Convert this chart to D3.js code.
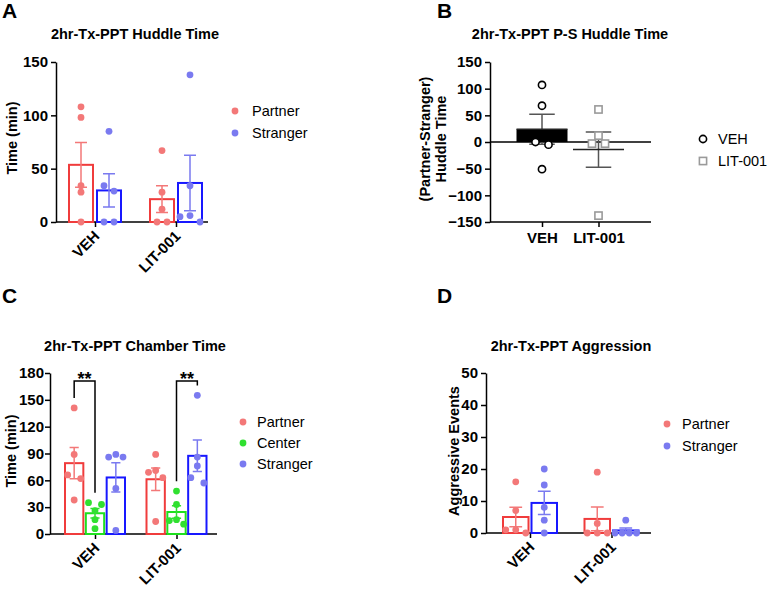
<!DOCTYPE html>
<html lang="en">
<head>
<meta charset="UTF-8" />
<title>2hr-Tx-PPT</title>
<style>
  body { margin: 0; background: #fff; }
  svg { display: block; font-family: "Liberation Sans", Arial, sans-serif; }
  .axis path, .axis line { stroke: #000; stroke-width: 1.5; }
  .axis text { font-size: 15px; font-weight: bold; fill: #000; font-family: "Liberation Sans", Arial, sans-serif; }
  .title { font-size: 14.5px; font-weight: bold; }
  .letter { font-size: 21px; font-weight: bold; }
  .ylab { font-size: 14.5px; font-weight: bold; }
  .legend text { font-size: 14.5px; }
</style>
</head>
<body>
<div id="chart"></div>
<script src="https://cdnjs.cloudflare.com/ajax/libs/d3/7.8.5/d3.min.js"></script>
<script>
// groups on the x axis
const groups = ["VEH", "LIT-001"];

// A - huddle time (one row per group)
const huddleSeries = ["Partner", "Stranger"];
const huddlePartner = [[108, 98, 34, 28, 0], [67, 28, 12, 0, 0]];
const huddleStranger = [[85, 34, 29, 0, 0], [138, 34, 6, 5, 0]];
const huddleTicks = [0, 50, 100, 150];

// B - partner minus stranger
const diffVEH = [107, 68, 0, -5, -51];
const diffLIT = [61, 12, -3, -3, -138];
const diffTicks = [-150, -100, -50, 0, 50, 100, 150];

// C - chamber time
const chamberSeries = ["Partner", "Center", "Stranger"];
const chamberPartner = [[141, 89, 66, 62, 38], [89, 71, 69, 63, 14]];
const chamberCenter = [[35, 33, 26, 16, 6], [48, 33, 16, 15, 11]];
const chamberStranger = [[89, 86, 86, 51, 4], [155, 86, 76, 63, 57]];
const chamberTicks = [0, 30, 60, 90, 120, 150, 180];
const chamberSig = [["VEH", "Partner", "Center", "**"], ["LIT-001", "Center", "Stranger", "**"]];

// D - aggression
const aggSeries = ["Partner", "Stranger"];
const aggPartner = [[16, 7, 1, 1, 0], [19, 3, 0, 0, 0]];
const aggStranger = [[20, 15, 8, 4, 0], [4, 0, 0, 0, 0]];
const aggTicks = [0, 10, 20, 30, 40, 50];

const dotColor = { Partner: "#f37878", Center: "#30e030", Stranger: "#7a7af0" };
const barColor = { Partner: "#f03c3c", Center: "#1ee01e", Stranger: "#1818ff" };

const svg = d3.select("#chart").append("svg").attr("width", 768).attr("height", 592);
svg.append("rect").attr("width", 768).attr("height", 592).attr("fill", "#fff");

// simple scatter layout: points closer than 6px vertically share a row
function swarm(vals, y, cx, spacing, bw) {
  const pts = vals.map(v => ({ v, py: y(v) })).sort((a, b) => a.py - b.py);
  const rows = [];
  pts.forEach(p => {
    const last = rows[rows.length - 1];
    if (last && p.py - last[last.length - 1].py < 6) last.push(p);
    else rows.push([p]);
  });
  const out = [];
  rows.forEach(r => {
    const n = r.length;
    const s = n > 1 ? Math.min(spacing, (bw - 4) / (n - 1)) : 0;
    const slots = d3.range(n).map(i => (i - (n - 1) / 2) * s)
      .sort((a, b) => Math.abs(a) - Math.abs(b) || a - b);
    r.forEach((p, i) => out.push({ x: cx + slots[i], y: p.py, v: p.v }));
  });
  return out;
}

function meanSem(vals) {
  return [d3.mean(vals), d3.deviation(vals) / Math.sqrt(vals.length)];
}

function labels(g, o) {
  g.append("text").attr("class", "letter").attr("x", o.letter[1]).attr("y", o.letter[2]).text(o.letter[0]);
  g.append("text").attr("class", "title").attr("x", o.titleX).attr("y", o.titleY)
    .attr("text-anchor", "middle").text(o.title);
}

function grouped(o) {
  const g = svg.append("g");
  const y = d3.scaleLinear().domain([0, d3.max(o.ticks)]).range([o.y0, o.y1]);
  const x = d3.scalePoint().domain(groups).range(o.xc);
  const inner = d3.scaleBand().domain(o.series).range([-o.half, o.half]).paddingInner(o.pad);
  const bw = inner.bandwidth();

  labels(g, o);

  g.append("g").attr("class", "axis").attr("transform", `translate(${o.x0},0)`)
    .call(d3.axisLeft(y).tickValues(o.ticks).tickSize(5).tickPadding(o.tpad).tickSizeOuter(0));
  const xa = g.append("g").attr("class", "axis").attr("transform", `translate(0,${o.y0})`)
    .call(d3.axisBottom(x).tickSize(5).tickSizeOuter(0));
  xa.select(".domain").attr("d", `M${o.x0},0H${o.x1}`);
  xa.selectAll(".tick text").attr("y", 0).attr("dy", 0)
    .attr("text-anchor", "end").attr("transform", "translate(5,15) rotate(-45)");

  g.append("text").attr("class", "ylab").attr("text-anchor", "middle")
    .attr("transform", `translate(${o.ylab[0]},${o.ylab[1]}) rotate(-90)`).text(o.ylabel);

  o.series.forEach((s, si) => groups.forEach((gr, gi) => {
    const vals = o.data[si][gi];
    const [m, se] = meanSem(vals);
    const left = x(gr) + inner(s), cx = left + bw / 2;
    g.append("rect").attr("x", left).attr("y", y(m)).attr("width", bw).attr("height", y(0) - y(m))
      .attr("fill", "none").attr("stroke", barColor[s]).attr("stroke-width", 2);
    g.append("path")
      .attr("d", `M${cx},${y(m - se)}V${y(m + se)}M${cx - bw / 4},${y(m + se)}h${bw / 2}M${cx - bw / 4},${y(m - se)}h${bw / 2}`)
      .attr("stroke", dotColor[s]).attr("stroke-width", 1.5).attr("fill", "none");
    g.selectAll(null).data(swarm(vals, y, cx, o.spacing, bw)).join("circle")
      .attr("cx", d => d.x).attr("cy", d => d.y).attr("r", 3.4).attr("fill", dotColor[s]);
  }));

  const lg = g.append("g").attr("class", "legend");
  o.series.forEach((s, i) => {
    const ly = o.leg[1] + i * o.leg[2];
    lg.append("circle").attr("cx", o.leg[0]).attr("cy", ly).attr("r", 3.4).attr("fill", dotColor[s]);
    lg.append("text").attr("x", o.leg[0] + o.leg[3]).attr("y", ly).attr("dy", "0.35em").text(s);
  });
  return { g, x, y, inner, bw };
}

// A
grouped({
  letter: ["A", 2, 18], title: "2hr-Tx-PPT Huddle Time", titleX: 135, titleY: 39,
  x0: 56, x1: 208, y0: 222, y1: 62, xc: [95, 176], half: 26, pad: 4 / 28, tpad: 3,
  series: huddleSeries, data: [huddlePartner, huddleStranger], ticks: huddleTicks,
  ylabel: "Time (min)", ylab: [17, 138], leg: [235, 111, 22, 17], spacing: 10
});

// C
const chamberData = [chamberPartner, chamberCenter, chamberStranger];
const c = grouped({
  letter: ["C", 2, 303], title: "2hr-Tx-PPT Chamber Time", titleX: 135, titleY: 351,
  x0: 50, x1: 217, y0: 534, y1: 373, xc: [95, 176.5], half: 30, pad: 0.12, tpad: 1,
  series: chamberSeries, data: chamberData, ticks: chamberTicks,
  ylabel: "Time (min)", ylab: [16, 451], leg: [243, 422, 21, 14], spacing: 13
});
const chamberTop = d3.max(chamberData.flat(2)) + 16;
chamberSig.forEach(([gr, a, b, label]) => {
  const gi = groups.indexOf(gr);
  const xa = c.x(gr) + c.inner(a) + c.bw / 2;
  const xb = c.x(gr) + c.inner(b) + c.bw / 2;
  const va = d3.max(chamberData[chamberSeries.indexOf(a)][gi]) + 11;
  const vb = d3.max(chamberData[chamberSeries.indexOf(b)][gi]) + 11;
  c.g.append("path").attr("d", `M${xa},${c.y(va)}V${c.y(chamberTop)}H${xb}V${c.y(vb)}`)
    .attr("fill", "none").attr("stroke", "#000").attr("stroke-width", 1.5);
  c.g.append("text").attr("x", (xa + xb) / 2).attr("y", c.y(chamberTop) + 4)
    .attr("text-anchor", "middle").attr("font-size", 18).attr("font-weight", "bold").text(label);
});

// D
grouped({
  letter: ["D", 437, 303], title: "2hr-Tx-PPT Aggression", titleX: 571, titleY: 351,
  x0: 486, x1: 651, y0: 533, y1: 373, xc: [530, 611.5], half: 27, pad: 3 / 28.5, tpad: 3,
  series: aggSeries, data: [aggPartner, aggStranger], ticks: aggTicks,
  ylabel: "Aggressive Events", ylab: [459, 451], leg: [667, 424, 22, 15], spacing: 10
});

// B
const gB = svg.append("g");
labels(gB, { letter: ["B", 437, 18], title: "2hr-Tx-PPT P-S Huddle Time", titleX: 570, titleY: 39 });
const yB = d3.scaleLinear().domain([d3.min(diffTicks), d3.max(diffTicks)]).range([222, 62]);
const xB = d3.scalePoint().domain(groups).range([542, 598.5]);
const bwB = 51;
gB.append("g").attr("class", "axis").attr("transform", "translate(490,0)")
  .call(d3.axisLeft(yB).tickValues(diffTicks).tickSize(5).tickSizeOuter(0));
const xaB = gB.append("g").attr("class", "axis").attr("transform", "translate(0,222)")
  .call(d3.axisBottom(xB).tickSize(5).tickPadding(5).tickSizeOuter(0));
xaB.select(".domain").attr("d", "M490,0H651");
gB.append("path").attr("d", `M490,${yB(0)}H651`).attr("stroke", "#000").attr("stroke-width", 1.5);
gB.append("text").attr("class", "ylab").attr("text-anchor", "middle")
  .attr("transform", "translate(430,139) rotate(-90)").text("(Partner-Stranger)");
gB.append("text").attr("class", "ylab").attr("text-anchor", "middle")
  .attr("transform", "translate(446,139) rotate(-90)").text("Huddle Time");

[diffVEH, diffLIT].forEach((vals, gi) => {
  const [m, se] = meanSem(vals);
  const cx = xB(groups[gi]);
  gB.append("path")
    .attr("d", `M${cx},${yB(m - se)}V${yB(m + se)}M${cx - bwB / 4},${yB(m + se)}h${bwB / 2}M${cx - bwB / 4},${yB(m - se)}h${bwB / 2}`)
    .attr("stroke", "#555").attr("stroke-width", 1.5).attr("fill", "none");
  if (gi === 0) {
    gB.append("rect").attr("x", cx - bwB / 2).attr("y", yB(m)).attr("width", bwB)
      .attr("height", yB(0) - yB(m)).attr("fill", "#000");
  }
  gB.append("path").attr("d", `M${cx - bwB / 2},${yB(m)}h${bwB}`).attr("stroke", "#222").attr("stroke-width", 1.5);
  const pts = swarm(vals, yB, cx, 13, bwB);
  if (gi === 0) {
    gB.selectAll(null).data(pts).join("circle")
      .attr("cx", d => d.x).attr("cy", d => d.y).attr("r", 3.6)
      .attr("fill", "#fff").attr("stroke", "#000").attr("stroke-width", 1.6);
  } else {
    gB.selectAll(null).data(pts).join("rect")
      .attr("x", d => d.x - 3.6).attr("y", d => d.y - 3.6).attr("width", 7.2).attr("height", 7.2)
      .attr("fill", "#fff").attr("stroke", "#9a9a9a").attr("stroke-width", 1.6);
  }
});
const lgB = gB.append("g").attr("class", "legend");
lgB.append("circle").attr("cx", 703).attr("cy", 139).attr("r", 3.6)
  .attr("fill", "#fff").attr("stroke", "#000").attr("stroke-width", 1.6);
lgB.append("rect").attr("x", 699.4).attr("y", 157.4).attr("width", 7.2).attr("height", 7.2)
  .attr("fill", "#fff").attr("stroke", "#9a9a9a").attr("stroke-width", 1.6);
lgB.append("text").attr("x", 718).attr("y", 139).attr("dy", "0.35em").text("VEH");
lgB.append("text").attr("x", 718).attr("y", 161).attr("dy", "0.35em").text("LIT-001");
</script>
</body>
</html>
